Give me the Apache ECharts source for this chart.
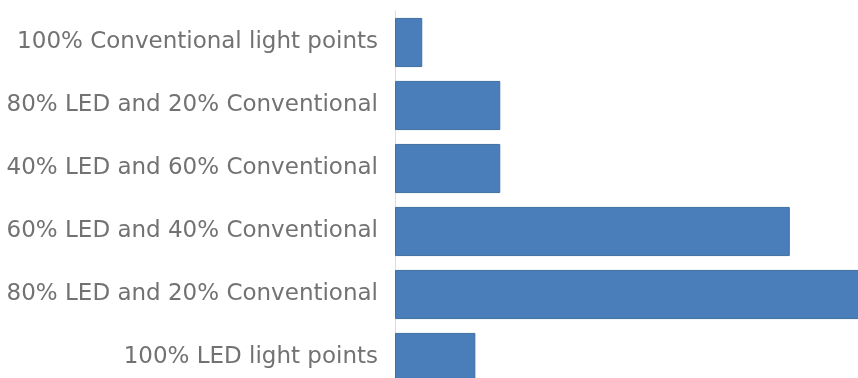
<!DOCTYPE html>
<html>
<head>
<meta charset="utf-8">
<script src="https://cdn.jsdelivr.net/npm/echarts@6/dist/echarts.min.js"></script>
<style>
  html, body { margin: 0; padding: 0; background: #ffffff; }
  #chart { width: 858px; height: 378px; }
</style>
</head>
<body>
<div id="chart"></div>
<script>
// Lighting scenarios, listed top to bottom
const scenarios = [
  "100% Conventional light points",
  "80% LED and 20% Conventional",
  "40% LED and 60% Conventional",
  "60% LED and 40% Conventional",
  "80% LED and 20% Conventional",
  "100% LED light points"
];
// Bar lengths per scenario (same order)
const values = [5.8, 22.4, 22.4, 84, 100, 17.1];

const chart = echarts.init(document.getElementById('chart'));

// Category axis runs top-down, so feed it reversed
const cats = scenarios.slice().reverse();
const vals = values.slice().reverse();

chart.setOption({
  animation: false,
  grid: {
    left: 395, width: 470, top: 11, height: 378,
    containLabel: false, outerBoundsMode: 'none'
  },
  xAxis: {
    type: 'value',
    min: 0,
    max: 100,
    show: false
  },
  yAxis: {
    type: 'category',
    data: cats.map((c, i) => ({ value: i + ':' + c })),
    axisLine: { show: true, lineStyle: { color: '#dcdcdc', width: 1 } },
    axisTick: { show: false },
    axisLabel: {
      margin: 17,
      color: '#727272',
      fontSize: 23,
      fontFamily: 'DejaVu Sans',
      formatter: v => v.slice(v.indexOf(':') + 1)
    }
  },
  series: [{
    type: 'bar',
    data: vals,
    barCategoryGap: '22%',
    itemStyle: { color: '#4a7ebb', borderColor: '#41719f', borderWidth: 1 }
  }]
});
</script>
</body>
</html>
